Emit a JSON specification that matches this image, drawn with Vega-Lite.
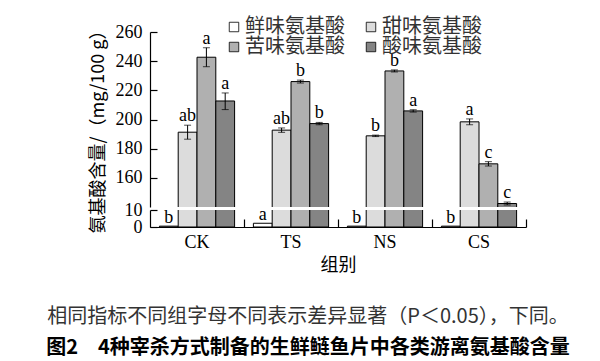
{
  "$schema": "https://vega.github.io/schema/vega-lite/v6.json",
  "autosize": {"type": "none"},
  "padding": {"left": 150, "top": 32, "right": 450, "bottom": 329},
  "config": {
    "view": {"stroke": null},
    "axis": {
      "grid": false, "domainColor": "#000", "tickColor": "#000", "labelColor": "#000", "titleColor": "#000",
      "labelFont": "Liberation Serif", "labelFontSize": 18, "domainWidth": 1.2, "tickWidth": 1.2,
      "titleFont": "Noto Sans CJK SC", "titleFontSize": 18, "titleFontWeight": "normal",
      "labelOverlap": false, "labelBound": false
    }
  },
  "title": {
    "text": "相同指标不同组字母不同表示差异显著（P＜0.05），下同。",
    "subtitle": "图2　4种宰杀方式制备的生鲜鲢鱼片中各类游离氨基酸含量",
    "orient": "bottom", "anchor": "middle", "frame": "group", "dx": -30,
    "font": "Noto Sans CJK SC", "fontSize": 20, "fontWeight": "normal", "color": "#333",
    "subtitleFont": "Noto Sans CJK SC", "subtitleFontSize": 20, "subtitleFontWeight": "bold", "subtitleColor": "#000",
    "offset": 33, "subtitlePadding": 11
  },
  "data": {"values": [
    {"group": "CK", "type": "鲜味氨基酸", "value": 0.5, "lo": 0.5, "hi": 0.5, "letter": "b"},
    {"group": "CK", "type": "甜味氨基酸", "value": 191.3, "lo": 186.5, "hi": 196.1, "letter": "ab"},
    {"group": "CK", "type": "苦味氨基酸", "value": 242.7, "lo": 236.2, "hi": 249.2, "letter": "a"},
    {"group": "CK", "type": "酸味氨基酸", "value": 212.7, "lo": 206.8, "hi": 218.2, "letter": "a"},
    {"group": "TS", "type": "鲜味氨基酸", "value": 2.2, "lo": 2.2, "hi": 2.2, "letter": "a"},
    {"group": "TS", "type": "甜味氨基酸", "value": 192.7, "lo": 191.2, "hi": 194.2, "letter": "ab"},
    {"group": "TS", "type": "苦味氨基酸", "value": 226.0, "lo": 225.0, "hi": 227.0, "letter": "b"},
    {"group": "TS", "type": "酸味氨基酸", "value": 197.2, "lo": 196.4, "hi": 198.0, "letter": "b"},
    {"group": "NS", "type": "鲜味氨基酸", "value": 0.5, "lo": 0.5, "hi": 0.5, "letter": "b"},
    {"group": "NS", "type": "甜味氨基酸", "value": 188.8, "lo": 188.3, "hi": 189.3, "letter": "b"},
    {"group": "NS", "type": "苦味氨基酸", "value": 233.3, "lo": 232.6, "hi": 234.0, "letter": "b"},
    {"group": "NS", "type": "酸味氨基酸", "value": 205.9, "lo": 205.1, "hi": 206.7, "letter": "a"},
    {"group": "CS", "type": "鲜味氨基酸", "value": 0.5, "lo": 0.5, "hi": 0.5, "letter": "b"},
    {"group": "CS", "type": "甜味氨基酸", "value": 198.4, "lo": 196.4, "hi": 200.4, "letter": "a"},
    {"group": "CS", "type": "苦味氨基酸", "value": 169.6, "lo": 168.1, "hi": 171.1, "letter": "c"},
    {"group": "CS", "type": "酸味氨基酸", "value": 142.4, "lo": 141.4, "hi": 143.4, "letter": "c"}
  ]},
  "spacing": 3,
  "bounds": "flush",
  "resolve": {"scale": {"y": "independent", "x": "independent"}, "legend": {"color": "independent"}},
  "vconcat": [
    {
      "width": 376, "height": 175,
      "encoding": {
        "x": {"field": "group", "type": "nominal", "sort": ["CK", "TS", "NS", "CS"], "scale": {"paddingInner": 0, "paddingOuter": 0}, "axis": null},
        "xOffset": {"field": "type", "type": "nominal", "scale": {"domain": ["鲜味氨基酸", "甜味氨基酸", "苦味氨基酸", "酸味氨基酸"], "paddingOuter": 0.5, "paddingInner": 0}}
      },
      "layer": [
        {
          "mark": {"type": "bar", "clip": true, "stroke": "#000", "strokeWidth": 1},
          "encoding": {
            "y": {"field": "value", "type": "quantitative", "scale": {"domain": [140, 260], "zero": false, "nice": false},
              "axis": {"values": [160, 180, 200, 220, 240, 260], "labelOverlap": false, "tickSize": -7, "labelPadding": 15,
                "title": "氨基酸含量/（mg/100 g）", "titleX": -52, "titleY": 95, "titleAngle": 270,
                "titleAlign": "center", "titleBaseline": "middle"}},
            "color": {"field": "type", "type": "nominal",
              "scale": {"domain": ["鲜味氨基酸", "甜味氨基酸", "苦味氨基酸", "酸味氨基酸"], "range": ["#ffffff", "#dcdcdc", "#b0b0b0", "#848484"]},
              "legend": {"orient": "none", "legendX": 74, "legendY": -15, "columns": 2, "direction": "horizontal", "title": null,
                "symbolType": "square", "symbolSize": 90, "symbolStrokeColor": "#000", "symbolStrokeWidth": 0.8,
                "labelFont": "Noto Sans CJK SC", "labelFontSize": 20, "labelColor": "#333", "labelOffset": 1,
                "columnPadding": 16, "rowPadding": 0}}
          }
        },
        {
          "transform": [{"filter": "datum.value > 100"}],
          "mark": {"type": "rule", "color": "#000", "strokeWidth": 1},
          "encoding": {"y": {"field": "lo", "type": "quantitative",
              "axis": {"values": [160, 180, 200, 220, 240, 260], "labelOverlap": false, "tickSize": -7, "labelPadding": 15,
                "title": "氨基酸含量/（mg/100 g）", "titleX": -52, "titleY": 95, "titleAngle": 270,
                "titleAlign": "center", "titleBaseline": "middle"}}, "y2": {"field": "hi"}}
        },
        {
          "transform": [{"filter": "datum.value > 100"}],
          "mark": {"type": "tick", "color": "#000", "size": 7, "thickness": 1, "orient": "horizontal"},
          "encoding": {"y": {"field": "lo", "type": "quantitative",
              "axis": {"values": [160, 180, 200, 220, 240, 260], "labelOverlap": false, "tickSize": -7, "labelPadding": 15,
                "title": "氨基酸含量/（mg/100 g）", "titleX": -52, "titleY": 95, "titleAngle": 270,
                "titleAlign": "center", "titleBaseline": "middle"}}}
        },
        {
          "transform": [{"filter": "datum.value > 100"}],
          "mark": {"type": "tick", "color": "#000", "size": 7, "thickness": 1, "orient": "horizontal"},
          "encoding": {"y": {"field": "hi", "type": "quantitative",
              "axis": {"values": [160, 180, 200, 220, 240, 260], "labelOverlap": false, "tickSize": -7, "labelPadding": 15,
                "title": "氨基酸含量/（mg/100 g）", "titleX": -52, "titleY": 95, "titleAngle": 270,
                "titleAlign": "center", "titleBaseline": "middle"}}}
        },
        {
          "transform": [{"filter": "datum.value > 100"}],
          "mark": {"type": "text", "font": "Liberation Serif", "fontSize": 18, "baseline": "alphabetic", "dy": -4, "color": "#000"},
          "encoding": {"y": {"field": "hi", "type": "quantitative",
              "axis": {"values": [160, 180, 200, 220, 240, 260], "labelOverlap": false, "tickSize": -7, "labelPadding": 15,
                "title": "氨基酸含量/（mg/100 g）", "titleX": -52, "titleY": 95, "titleAngle": 270,
                "titleAlign": "center", "titleBaseline": "middle"}}, "text": {"field": "letter"}}
        }
      ]
    },
    {
      "width": 376, "height": 17,
      "encoding": {
        "x": {"field": "group", "type": "nominal", "sort": ["CK", "TS", "NS", "CS"], "scale": {"paddingInner": 0, "paddingOuter": 0},
          "axis": {"bandPosition": 1, "tickSize": -8, "labelOffset": 0, "labelAngle": 0, "labelPadding": 14, "title": "组别", "titlePadding": 5}},
        "xOffset": {"field": "type", "type": "nominal", "scale": {"domain": ["鲜味氨基酸", "甜味氨基酸", "苦味氨基酸", "酸味氨基酸"], "paddingOuter": 0.5, "paddingInner": 0}}
      },
      "layer": [
        {
          "mark": {"type": "bar", "clip": true, "stroke": "#000", "strokeWidth": 1},
          "encoding": {
            "y": {"field": "value", "type": "quantitative", "scale": {"domain": [0, 10], "nice": false},
              "axis": {"values": [0, 10], "labelOverlap": false, "tickSize": -7, "labelPadding": 15, "title": null}},
            "color": {"field": "type", "type": "nominal",
              "scale": {"domain": ["鲜味氨基酸", "甜味氨基酸", "苦味氨基酸", "酸味氨基酸"], "range": ["#ffffff", "#dcdcdc", "#b0b0b0", "#848484"]},
              "legend": null}
          }
        },
        {
          "transform": [{"filter": "datum.value < 10"}],
          "mark": {"type": "text", "font": "Liberation Serif", "fontSize": 18, "baseline": "alphabetic", "dy": -3, "color": "#000"},
          "encoding": {"y": {"field": "hi", "type": "quantitative",
              "axis": {"values": [0, 10], "labelOverlap": false, "tickSize": -7, "labelPadding": 15, "title": null}}, "text": {"field": "letter"}}
        }
      ]
    }
  ]
}
